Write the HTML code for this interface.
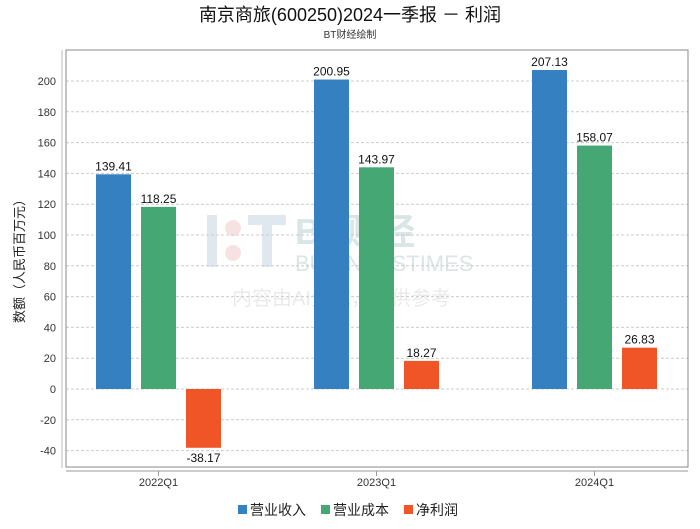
<!DOCTYPE html>
<html><head><meta charset="utf-8"><style>
body{margin:0;background:#fff;}
svg text{font-family:"Liberation Sans","Noto Sans CJK SC",sans-serif;}
</style></head><body>
<svg width="700" height="524" xmlns="http://www.w3.org/2000/svg" id="chart">
<text x="350" y="21" text-anchor="middle" font-size="18" fill="#111">南京商旅(600250)2024一季报 － 利润</text>
<text x="350" y="38" text-anchor="middle" font-size="10" fill="#333">BT财经绘制</text>
<g opacity="0.3">
<rect x="207" y="215" width="10" height="52" fill="#9ab4cc"/>
<circle cx="233" cy="228" r="8" fill="#e8a0a0"/><circle cx="233" cy="253" r="8" fill="#e8a0a0"/>
<rect x="248" y="215" width="38" height="10" fill="#9ab4cc"/><rect x="262" y="225" width="10" height="42" fill="#9ab4cc"/>
<text x="295" y="244" font-size="36" font-family="Liberation Serif,serif" fill="#8aa" font-weight="bold">BT财经</text>
<text x="295" y="271" font-size="22" font-family="Liberation Serif,serif" fill="#8aa">BUSINESSTIMES</text>
<text x="232" y="305" font-size="20" fill="#bbb">内容由AI生成，仅供参考</text>
</g>
<g id="grid"></g>
<rect x="66" y="50" width="622" height="417" fill="none" stroke="#888"/>
<line x1="62" y1="50" x2="62" y2="468" stroke="#bbb"/>
<line x1="66" y1="471" x2="688" y2="471" stroke="#999"/>
<text transform="translate(24,258) rotate(-90)" text-anchor="middle" font-size="13" fill="#222">数额（人民币百万元）</text>
<g id="bars"></g>
<g>
<rect x="238" y="505" width="9" height="9" fill="#3480c0"/><text x="250" y="515" font-size="14" fill="#222">营业收入</text>
<rect x="321" y="505" width="9" height="9" fill="#45a874"/><text x="333" y="515" font-size="14" fill="#222">营业成本</text>
<rect x="404" y="505" width="9" height="9" fill="#f05528"/><text x="416" y="515" font-size="14" fill="#222">净利润</text>
</g>
</svg>
<script>
const categories=["2022Q1","2023Q1","2024Q1"];
const revenue=[139.41,200.95,207.13];
const cost=[118.25,143.97,158.07];
const netProfit=[-38.17,18.27,26.83];
const yTicks=[-40,-20,0,20,40,60,80,100,120,140,160,180,200];
const NS="http://www.w3.org/2000/svg";
function y(v){return 389-v*1.54;}
function xc(i){return 158.5+i*218;}
function mk(t,a,p){const e=document.createElementNS(NS,t);for(const k in a)e.setAttribute(k,a[k]);p.appendChild(e);return e;}
const grid=document.getElementById('grid'),bars=document.getElementById('bars');
yTicks.forEach(v=>{
 const l=mk('line',{x1:66,x2:688,y1:y(v),y2:y(v),stroke:'#ccc','stroke-dasharray':'3,2'},grid);
 
 
 const t=mk('text',{x:56,y:y(v)+4,'text-anchor':'end','font-size':11,fill:'#333'},grid);t.textContent=v;
 
 
});
const series=[[revenue,'#3480c0','revenue'],[cost,'#45a874','cost'],[netProfit,'#f05528','net-profit']];
categories.forEach((c,i)=>{
 const tk=mk('line',{x1:xc(i),x2:xc(i),y1:471,y2:476,stroke:'#999'},bars);
 
 
 const t=mk('text',{x:xc(i),y:486,'text-anchor':'middle','font-size':11,fill:'#333'},bars);t.textContent=c;
 
 
 series.forEach((s,j)=>{
  const v=s[0][i],x=xc(i)-62.5+j*45;
  const top=Math.min(y(v),y(0)),h=Math.abs(y(v)-y(0));
  const r=mk('rect',{x:x,y:top,width:35,height:h,fill:s[1]},bars);
  
  
  const lb=mk('text',{x:x+17.5,y:v>=0?y(v)-4:y(v)+14,'text-anchor':'middle','font-size':12,fill:'#111'},bars);
  lb.textContent=v.toFixed(2);
  
  
 });
});
</script>
</body></html>
